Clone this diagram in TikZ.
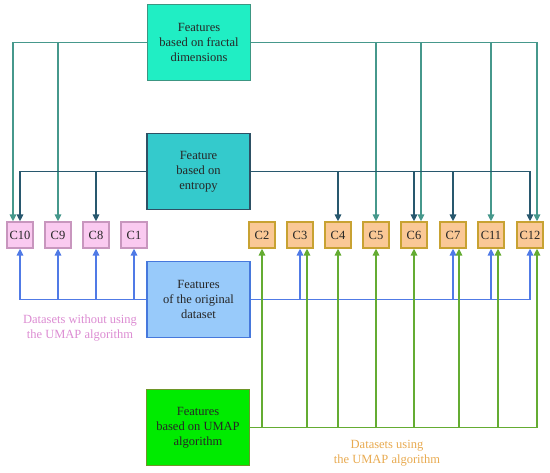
\documentclass[tikz,border=0pt]{standalone}
\usepackage{fontspec}
\setmainfont{Liberation Serif}
\usetikzlibrary{arrows.meta}
\definecolor{fracfill}{RGB}{32,238,196}
\definecolor{fracedge}{RGB}{60,150,130}
\definecolor{fracline}{RGB}{70,152,140}
\definecolor{entfill}{RGB}{52,202,204}
\definecolor{entedge}{RGB}{45,80,100}
\definecolor{entline}{RGB}{40,88,110}
\definecolor{origfill}{RGB}{152,202,250}
\definecolor{origedge}{RGB}{70,120,220}
\definecolor{origline}{RGB}{80,122,230}
\definecolor{umapfill}{RGB}{0,235,0}
\definecolor{umapedge}{RGB}{110,150,40}
\definecolor{umapline}{RGB}{100,172,50}
\definecolor{pinkfill}{RGB}{250,202,240}
\definecolor{pinkedge}{RGB}{200,150,190}
\definecolor{orafill}{RGB}{250,200,150}
\definecolor{oraedge}{RGB}{200,162,50}
\definecolor{pinktext}{RGB}{220,140,210}
\definecolor{oratext}{RGB}{232,170,80}
\begin{document}
\begin{tikzpicture}[x=1pt,y=-1pt,
  every node/.style={font=\fontsize{12.5}{15}\selectfont, text=black!85, align=center},
  srcbox/.style={draw, line width=1.5pt, minimum width=103pt, minimum height=76pt, inner sep=0pt},
  cbox/.style={draw, line width=1.3pt, minimum size=26pt, inner sep=0pt},
  link/.style={line width=1.5pt, -{Triangle[length=7pt,width=6.5pt]}}]
\useasboundingbox (0,0) rectangle (550,473);
\node[srcbox, fill=fracfill, draw=fracedge] (frac) at (199,42.5) {Features\\based on fractal\\dimensions};
\node[srcbox, fill=entfill, draw=entedge] (ent) at (198.5,171.5) {Feature\\based on\\entropy};
\node[srcbox, fill=origfill, draw=origedge] (orig) at (198.5,299.5) {Features\\of the original\\dataset};
\node[srcbox, fill=umapfill, draw=umapedge] (umap) at (198,427.5) {Features\\based on UMAP\\algorithm};
\foreach \n/\x in {C10/20, C9/58, C8/96, C1/134}
  \node[cbox, fill=pinkfill, draw=pinkedge] (\n) at (\x,235) {\n};
\foreach \n/\x in {C2/262, C3/300, C4/338, C5/376, C6/414, C7/453, C11/491, C12/530}
  \node[cbox, fill=orafill, draw=oraedge] (\n) at (\x,235) {\n};
\foreach \t/\dx in {C10/-7, C9/0, C5/0, C6/7, C11/0, C12/7}
  \draw[link, fracline] (frac) -| ([xshift=\dx]\t.north);
\foreach \t in {C10, C8, C4, C6, C7, C12}
  \draw[link, entline] (ent) -| (\t.north);
\foreach \t in {C10, C9, C8, C1, C3, C7, C11, C12}
  \draw[link, origline] (orig) -| (\t.south);
\foreach \t/\dx in {C2/0, C3/7, C4/0, C5/0, C6/0, C7/6, C11/7, C12/7}
  \draw[link, umapline] (umap) -| ([xshift=\dx]\t.south);
\node[text=pinktext] (nonumap) at (80,328) {Datasets without using\\the UMAP algorithm};
\node[text=oratext] (withumap) at (387,453) {Datasets using\\the UMAP algorithm};
\end{tikzpicture}
\end{document}
